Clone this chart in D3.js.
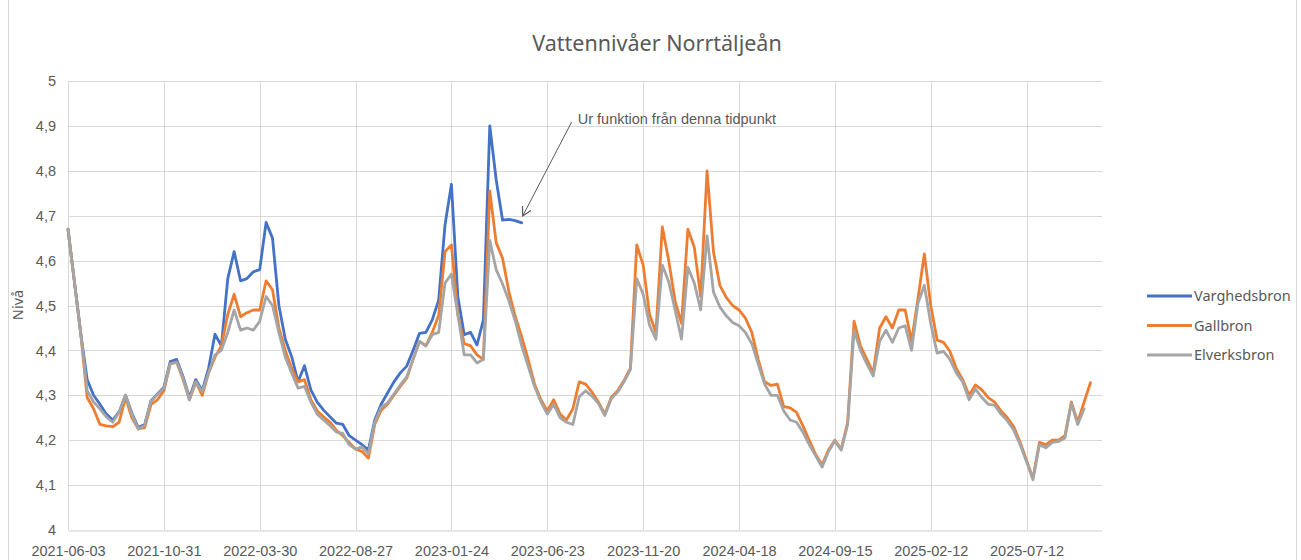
<!DOCTYPE html>
<html lang="sv">
<head>
<meta charset="UTF-8">
<title>Vattennivåer Norrtäljeån</title>
<script src="https://d3js.org/d3.v7.min.js"></script>
<style>
  body { margin: 0; background: #fff; }
  svg { font-family: "Noto Sans", "Open Sans", sans-serif; }
</style>
</head>
<body>
<div id="chart"></div>
<script>
// measurements every 10 days from 2021-06-03
const startDate = new Date(Date.UTC(2021, 5, 3));
const stepDays = 10;
const endDays = 1618;

const seriesNames = ["Varghedsbron", "Gallbron", "Elverksbron"];
const seriesColors = ["#4472C4", "#ED7D31", "#A5A5A5"];

const varghedsbron = [
  4.67, 4.553, 4.437, 4.335, 4.30, 4.28, 4.258, 4.245, 4.263, 4.30,
  4.26, 4.228, 4.235, 4.288, 4.303, 4.318, 4.375, 4.38, 4.342, 4.295,
  4.335, 4.31, 4.36, 4.436, 4.41, 4.56, 4.62, 4.555, 4.56, 4.575,
  4.58, 4.685, 4.65, 4.50, 4.425, 4.386, 4.33, 4.366, 4.312, 4.285,
  4.267, 4.252, 4.238, 4.235, 4.21, 4.20, 4.19, 4.178, 4.245, 4.28,
  4.305, 4.33, 4.35, 4.365, 4.40, 4.438, 4.44, 4.468, 4.512, 4.68,
  4.77, 4.52, 4.435, 4.44, 4.412, 4.468, 4.90, 4.78, 4.69, 4.692,
  4.689, 4.684
];

const gallbron = [
  4.67, 4.553, 4.437, 4.295, 4.27, 4.235, 4.232, 4.23, 4.24, 4.295,
  4.25, 4.225, 4.228, 4.28, 4.29, 4.31, 4.37, 4.374, 4.336, 4.29,
  4.33, 4.30, 4.35, 4.385, 4.41, 4.48, 4.525, 4.475, 4.484, 4.49,
  4.49, 4.555, 4.535, 4.45, 4.40, 4.36, 4.33, 4.335, 4.29, 4.265,
  4.252, 4.24, 4.222, 4.21, 4.195, 4.18, 4.175, 4.16, 4.235, 4.267,
  4.28, 4.30, 4.32, 4.338, 4.38, 4.42, 4.41, 4.44, 4.478, 4.62,
  4.635, 4.48, 4.415, 4.41, 4.39, 4.38, 4.755, 4.64, 4.605, 4.53,
  4.475, 4.43, 4.38, 4.325, 4.29, 4.265, 4.29, 4.258, 4.245, 4.27,
  4.33, 4.325, 4.307, 4.285, 4.258, 4.295, 4.31, 4.333, 4.36, 4.635,
  4.59, 4.48, 4.44, 4.675, 4.60, 4.51, 4.46, 4.67, 4.63, 4.52,
  4.80, 4.62, 4.545, 4.518, 4.50, 4.49, 4.472, 4.44, 4.38, 4.33,
  4.322, 4.325, 4.275, 4.272, 4.262, 4.232, 4.20, 4.168, 4.145, 4.178,
  4.20, 4.18, 4.24, 4.465, 4.41, 4.38, 4.35, 4.45, 4.475, 4.45,
  4.49, 4.49, 4.42, 4.515, 4.615, 4.50, 4.423, 4.418, 4.398, 4.36,
  4.335, 4.30, 4.323, 4.312, 4.295, 4.285, 4.265, 4.25, 4.23, 4.195,
  4.155, 4.115, 4.195, 4.19, 4.20, 4.20, 4.21, 4.285, 4.24, 4.285,
  4.328
];

const elverksbron = [
  4.67, 4.553, 4.437, 4.31, 4.285, 4.27, 4.252, 4.24, 4.262, 4.30,
  4.258, 4.225, 4.233, 4.287, 4.302, 4.316, 4.37, 4.374, 4.339, 4.29,
  4.33, 4.308, 4.35, 4.39, 4.40, 4.44, 4.49, 4.445, 4.45, 4.445,
  4.465, 4.52, 4.50, 4.44, 4.385, 4.35, 4.316, 4.32, 4.285, 4.258,
  4.245, 4.232, 4.218, 4.215, 4.19, 4.18, 4.185, 4.17, 4.24, 4.273,
  4.283, 4.303, 4.323, 4.341, 4.38, 4.42, 4.41, 4.435, 4.44, 4.55,
  4.57, 4.48, 4.39, 4.39, 4.372, 4.38, 4.645, 4.58, 4.548, 4.51,
  4.465, 4.41, 4.365, 4.32, 4.285, 4.258, 4.28, 4.25, 4.24, 4.235,
  4.297, 4.31, 4.298, 4.282, 4.255, 4.292, 4.307, 4.33, 4.357, 4.56,
  4.525, 4.456, 4.425, 4.59, 4.553, 4.49, 4.425, 4.585, 4.55, 4.49,
  4.655, 4.53, 4.497, 4.477, 4.462, 4.455, 4.44, 4.415, 4.37, 4.325,
  4.30, 4.30, 4.265, 4.245, 4.24, 4.218, 4.19, 4.165, 4.14, 4.175,
  4.198, 4.178, 4.235, 4.445, 4.40, 4.37, 4.343, 4.42, 4.445, 4.418,
  4.45, 4.455, 4.40, 4.505, 4.545, 4.46, 4.394, 4.398, 4.38, 4.35,
  4.33, 4.29, 4.314, 4.295, 4.28, 4.278, 4.258, 4.243, 4.222, 4.19,
  4.152, 4.112, 4.19, 4.183, 4.195, 4.197, 4.205, 4.282, 4.235, 4.27
];

const xTickDays = [0, 150, 300, 450, 600, 750, 900, 1050, 1200, 1350, 1500];
const yTicks = [4, 4.1, 4.2, 4.3, 4.4, 4.5, 4.6, 4.7, 4.8, 4.9, 5];

const width = 1301, height = 560;
const margin = { top: 81, right: 199, bottom: 30, left: 68 };

const svg = d3.select('#chart').append('svg')
  .attr('width', width)
  .attr('height', height);

// chart area border
svg.append('rect')
  .attr('x', 8.5).attr('y', -2)
  .attr('width', 1288).attr('height', height + 4)
  .attr('fill', 'none').attr('stroke', '#D9D9D9');

const x = d3.scaleUtc()
  .domain([startDate, d3.utcDay.offset(startDate, endDays)])
  .range([margin.left, width - margin.right]);

const y = d3.scaleLinear()
  .domain([4, 5])
  .range([height - margin.bottom, margin.top]);

const xTicks = xTickDays.map(d => d3.utcDay.offset(startDate, d));
const fmtY = v => String(Math.round(v * 10) / 10).replace('.', ',');

// gridlines
svg.append('g').selectAll('line.h')
  .data(yTicks.slice(1))
  .join('line')
  .attr('x1', x.range()[0]).attr('x2', x.range()[1])
  .attr('y1', d => Math.round(y(d)) + 0.5).attr('y2', d => Math.round(y(d)) + 0.5)
  .attr('stroke', '#D9D9D9').attr('stroke-width', 1);

svg.append('g').selectAll('line.v')
  .data(xTicks)
  .join('line')
  .attr('x1', d => Math.round(x(d)) + 0.5).attr('x2', d => Math.round(x(d)) + 0.5)
  .attr('y1', y.range()[1]).attr('y2', y.range()[0])
  .attr('stroke', '#D9D9D9').attr('stroke-width', 1);

// axes
const xAxis = svg.append('g')
  .attr('transform', `translate(0, ${Math.round(y(4)) + 0.5})`)
  .call(d3.axisBottom(x).tickValues(xTicks).tickSize(0).tickPadding(15)
    .tickFormat(d3.utcFormat('%Y-%m-%d')));
xAxis.select('.domain').attr('stroke', '#CFCFCF');
xAxis.selectAll('text').attr('fill', '#595959').attr('font-size', '14.5px');

const yAxis = svg.append('g')
  .attr('transform', `translate(${margin.left}, 0)`)
  .call(d3.axisLeft(y).tickValues(yTicks).tickSize(0).tickPadding(12).tickFormat(fmtY));
yAxis.select('.domain').remove();
yAxis.selectAll('text').attr('fill', '#595959').attr('font-size', '14.5px');

// lines
const allSeries = [varghedsbron, gallbron, elverksbron];
const line = d3.line()
  .x((d, i) => x(d3.utcDay.offset(startDate, i * stepDays)))
  .y(d => y(d));

svg.append('g').selectAll('path')
  .data(allSeries)
  .join('path')
  .attr('fill', 'none')
  .attr('stroke', (d, i) => seriesColors[i])
  .attr('stroke-width', 2.8)
  .attr('stroke-linejoin', 'round')
  .attr('stroke-linecap', 'round')
  .attr('d', line);

// title
svg.append('text')
  .attr('x', 657).attr('y', 51)
  .attr('text-anchor', 'middle')
  .attr('font-size', '21.5px')
  .attr('fill', '#595959')
  .text('Vattennivåer Norrtäljeån');

// y axis title
svg.append('text')
  .attr('transform', 'translate(23, 305) rotate(-90)')
  .attr('text-anchor', 'middle')
  .attr('font-size', '14.5px')
  .attr('fill', '#595959')
  .text('Nivå');

// legend
const legend = svg.append('g').attr('transform', 'translate(1147, 296)');
const item = legend.selectAll('g')
  .data(seriesNames)
  .join('g')
  .attr('transform', (d, i) => `translate(0, ${i * 29.5})`);
item.append('line')
  .attr('x1', 0).attr('x2', 45)
  .attr('stroke', (d, i) => seriesColors[i])
  .attr('stroke-width', 2.8);
item.append('text')
  .attr('x', 47).attr('dy', '0.35em')
  .attr('font-size', '14.5px')
  .attr('fill', '#595959')
  .text(d => d);

// annotation pointing to the last Varghedsbron value
const lastIdx = varghedsbron.length - 1;
const tipX = x(d3.utcDay.offset(startDate, lastIdx * stepDays)) + 1;
const tipY = y(varghedsbron[lastIdx]) - 7;

svg.append('defs').append('marker')
  .attr('id', 'arrow')
  .attr('viewBox', '0 0 10 10')
  .attr('refX', 9).attr('refY', 5)
  .attr('markerWidth', 10).attr('markerHeight', 10)
  .attr('markerUnits', 'userSpaceOnUse')
  .attr('orient', 'auto')
  .append('path')
  .attr('d', 'M0,0 L9,5 L0,10')
  .attr('fill', 'none')
  .attr('stroke', '#595959')
  .attr('stroke-width', 1.2);

svg.append('line')
  .attr('x1', tipX + 49).attr('y1', tipY - 94)
  .attr('x2', tipX).attr('y2', tipY)
  .attr('stroke', '#595959')
  .attr('stroke-width', 1)
  .attr('marker-end', 'url(#arrow)');

svg.append('text')
  .attr('x', tipX + 55).attr('y', tipY - 92)
  .attr('font-family', '"Liberation Sans", Arial, sans-serif')
  .attr('font-size', '14.5px')
  .attr('fill', '#595959')
  .text('Ur funktion från denna tidpunkt');
</script>
</body>
</html>
